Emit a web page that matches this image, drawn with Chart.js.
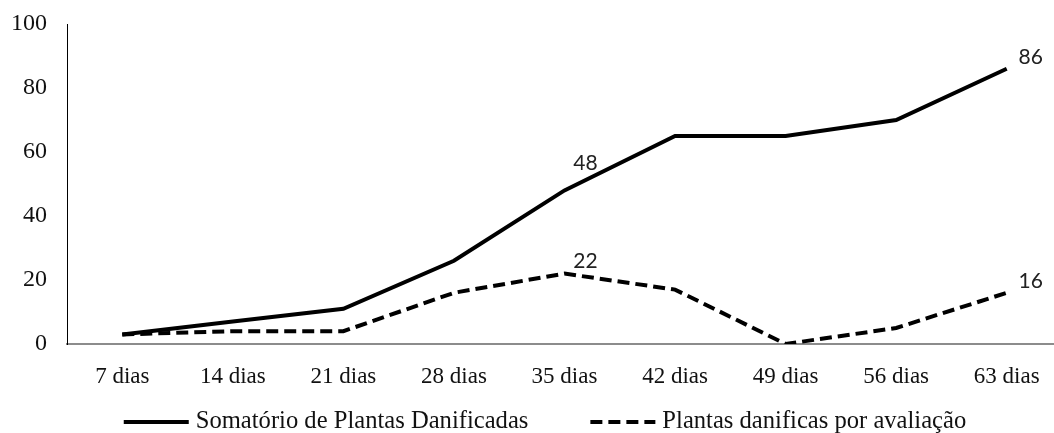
<!DOCTYPE html>
<html>
<head>
<meta charset="utf-8">
<script src="https://cdn.jsdelivr.net/npm/chart.js@4"></script>
<style>
  html, body { margin: 0; padding: 0; background: #fff; }
  #wrap { width: 1054px; height: 433px; }
</style>
</head>
<body>
<div id="wrap"><canvas id="lineChart"></canvas></div>
<script>
// --- data ---
const categories = ['7 dias', '14 dias', '21 dias', '28 dias', '35 dias', '42 dias', '49 dias', '56 dias', '63 dias'];
const somatorio = [3, 7, 11, 26, 48, 65, 65, 70, 86];
const porAvaliacao = [3, 4, 4, 16, 22, 17, 0, 5, 16];
const seriesNames = ['Somatório de Plantas Danificadas', 'Plantas danificas por avaliação'];
const yTicks = [0, 20, 40, 60, 80, 100];
// points that carry a value label: [dataset, index]
const labeledPoints = [[0, 4], [0, 8], [1, 4], [1, 8]];

const serif = '"Liberation Serif", "Times New Roman", serif';

// the original plot runs a little past the right edge of the picture
const stretchX = {
    id: 'stretchX',
    afterLayout(chart) {
        const x = chart.scales.x;
        x.right += 8;
        x.width += 8;
        x.configure();
    }
};

// draws the few value labels next to their points
const valueLabels = {
    id: 'valueLabels',
    afterDatasetsDraw(chart) {
        const ctx = chart.ctx;
        ctx.save();
        ctx.font = '21px Lato, "Open Sans", sans-serif';
        ctx.fillStyle = '#222';
        ctx.textAlign = 'center';
        ctx.textBaseline = 'middle';
        labeledPoints.forEach(([ds, i]) => {
            const pt = chart.getDatasetMeta(ds).data[i];
            const v = chart.data.datasets[ds].data[i];
            // the 48 sits on a steep rising line, so it goes higher
            const dy = (i === 4 && ds === 0) ? -27 : -12;
            const dx = (i === 4) ? 21 : 24;
            ctx.fillText(String(v), pt.x + dx, pt.y + dy);
        });
        ctx.restore();
    }
};

// bottom legend drawn by hand so the long line samples and gaps match
const bottomLegend = {
    id: 'bottomLegend',
    afterDraw(chart) {
        const ctx = chart.ctx;
        const items = chart.data.datasets;
        const sample = 65, gapText = 7, gapItem = 62;
        ctx.save();
        ctx.font = '24.6px ' + serif;
        ctx.textBaseline = 'middle';
        ctx.fillStyle = '#111';
        const widths = items.map(d => ctx.measureText(d.label).width);
        let total = 0;
        widths.forEach((w, k) => { total += sample + gapText + w + (k ? gapItem : 0); });
        let x = chart.width / 2 + 18 - total / 2;
        const y = chart.height - 11;
        items.forEach((d, k) => {
            ctx.beginPath();
            ctx.strokeStyle = '#000';
            ctx.lineWidth = 4;
            ctx.setLineDash(d.borderDash || []);
            ctx.moveTo(x, y);
            ctx.lineTo(x + sample, y);
            ctx.stroke();
            ctx.setLineDash([]);
            ctx.fillText(d.label, x + sample + gapText, y);
            x += sample + gapText + widths[k] + gapItem;
        });
        ctx.restore();
    }
};

const ctx = document.getElementById('lineChart');
new Chart(ctx, {
    type: 'line',
    data: {
        labels: categories,
        datasets: [{
            label: seriesNames[0],
            data: somatorio,
            borderColor: '#000',
            backgroundColor: '#000',
            borderWidth: 4,
            pointRadius: 0,
            tension: 0
        }, {
            label: seriesNames[1],
            data: porAvaliacao,
            borderColor: '#000',
            backgroundColor: '#000',
            borderWidth: 4,
            borderDash: [12, 6],
            pointRadius: 0,
            tension: 0
        }]
    },
    options: {
        responsive: true,
        maintainAspectRatio: false,
        animation: false,
        layout: { padding: { top: 24, left: 10, right: 0, bottom: 39 } },
        scales: {
            x: {
                offset: true,
                grid: { display: false, drawTicks: false },
                border: { color: '#8c8c8c', width: 2 },
                ticks: {
                    color: '#111',
                    padding: 19,
                    maxRotation: 0,
                    font: { family: serif, size: 23 }
                },
                afterFit(scale) { scale.height = 50; }
            },
            y: {
                min: 0,
                max: 100,
                afterBuildTicks(scale) { scale.ticks = yTicks.map(v => ({ value: v })); },
                grid: { display: false, drawTicks: false },
                border: { color: '#000', width: 1 },
                ticks: {
                    color: '#111',
                    padding: 20,
                    font: { family: serif, size: 24 }
                },
                afterFit(scale) {
                    scale.width = 57;
                    scale.paddingTop = 0;
                    scale.paddingBottom = 0;
                }
            }
        },
        plugins: {
            legend: { display: false },
            tooltip: { enabled: false }
        }
    },
    plugins: [stretchX, valueLabels, bottomLegend]
});
</script>
</body>
</html>
